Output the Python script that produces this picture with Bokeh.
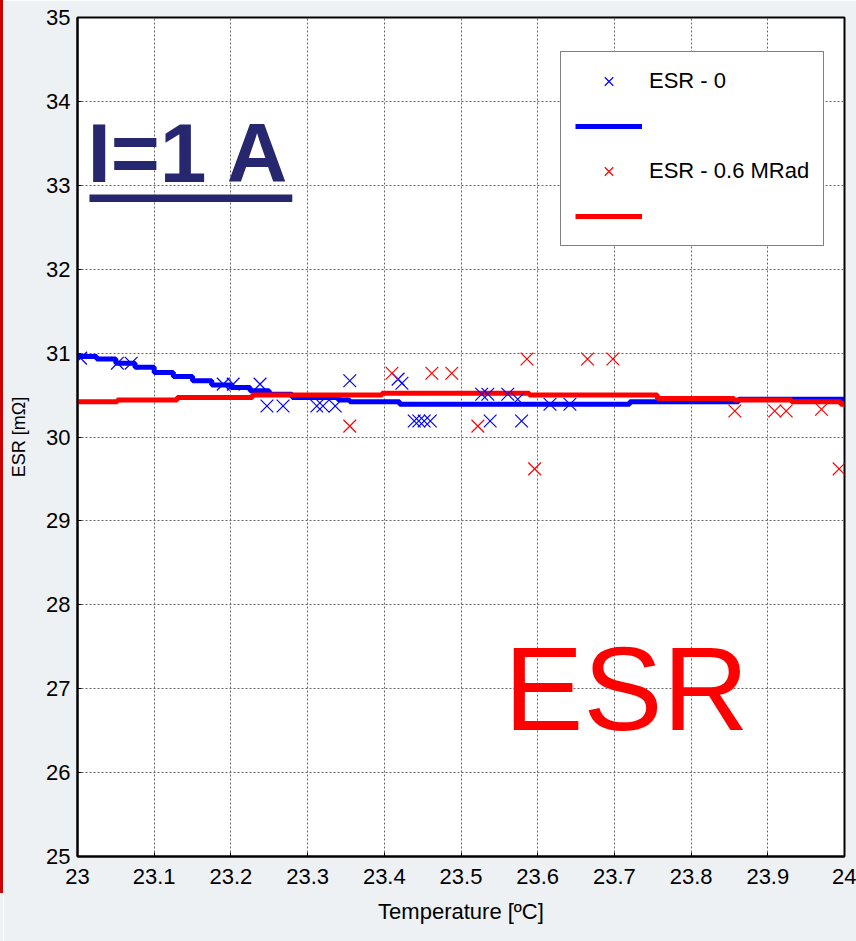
from bokeh.plotting import figure
from bokeh.models import Range1d, FixedTicker, Legend, LegendItem, Label, BoxAnnotation, Div
from bokeh.layouts import row
from bokeh.embed import file_html
from bokeh.resources import INLINE

# ---------------- data ----------------
esr0_temp = [23.004, 23.052, 23.070, 23.190, 23.203, 23.238, 23.247, 23.268, 23.312,
             23.320, 23.336, 23.355, 23.418, 23.423, 23.439, 23.445, 23.452, 23.460,
             23.527, 23.535, 23.538, 23.561, 23.574, 23.579, 23.616, 23.642]
esr0_val = [30.94, 30.88, 30.88, 30.63, 30.63, 30.63, 30.37, 30.37, 30.37,
            30.37, 30.37, 30.67, 30.69, 30.64, 30.19, 30.19, 30.19, 30.19,
            30.51, 30.51, 30.19, 30.51, 30.45, 30.19, 30.39, 30.39]

esr06_temp = [23.355, 23.410, 23.462, 23.488, 23.522, 23.586, 23.596, 23.665, 23.698,
              23.857, 23.909, 23.924, 23.970, 23.993]
esr06_val = [30.13, 30.76, 30.76, 30.76, 30.13, 30.93, 29.62, 30.93, 30.93,
             30.31, 30.31, 30.31, 30.33, 29.62]

# step fits (breakpoints and levels)
fit0_temp = [23.0, 23.025, 23.05, 23.075, 23.10, 23.125, 23.15, 23.175, 23.20, 23.225,
             23.25, 23.28, 23.34, 23.355, 23.42, 23.72, 23.862, 24.0]
fit0_val = [30.96, 30.93, 30.88, 30.83, 30.77, 30.72, 30.67, 30.62, 30.59, 30.55,
            30.51, 30.47, 30.44, 30.42, 30.39, 30.42, 30.45, 30.45]

fit06_temp = [23.0, 23.052, 23.13, 23.228, 23.397, 23.589, 23.756, 23.856, 23.931, 23.995, 24.0]
fit06_val = [30.42, 30.44, 30.47, 30.50, 30.52, 30.50, 30.46, 30.44, 30.42, 30.39, 30.39]

x_ticks = [23.0, 23.1, 23.2, 23.3, 23.4, 23.5, 23.6, 23.7, 23.8, 23.9, 24.0]
x_tick_labels = ["23", "23.1", "23.2", "23.3", "23.4", "23.5", "23.6", "23.7", "23.8", "23.9", "24"]
y_ticks = [25, 26, 27, 28, 29, 30, 31, 32, 33, 34, 35]
y_tick_labels = ["25", "26", "27", "28", "29", "30", "31", "32", "33", "34", "35"]

legend_labels = ["ESR - 0", "ESR - 0.6 MRad"]


def steps(xs, ys):
    sx, sy = [], []
    for i in range(len(xs) - 1):
        sx += [xs[i], xs[i + 1]]
        sy += [ys[i], ys[i]]
    return sx, sy


FONT = "Liberation Sans"
BLUE = "#0000ff"
RED = "#ff0000"
NAVY = "#27276f"
BG = "#eef1f4"

p = figure(width=853, height=941, x_range=Range1d(23, 24), y_range=Range1d(25, 35),
           output_backend="svg", toolbar_location=None, margin=0,
           min_border_left=74, min_border_right=12, min_border_top=17, min_border_bottom=85)
p.background_fill_color = "white"
p.border_fill_color = BG
p.outline_line_color = "black"
p.outline_line_width = 2

for ax in (p.xaxis[0], p.yaxis[0]):
    ax.axis_line_color = "black"
    ax.axis_line_width = 2
    ax.major_tick_in = 4
    ax.major_tick_out = 0
    ax.major_tick_line_color = "black"
    ax.minor_tick_line_color = None
    ax.major_label_text_font = FONT
    ax.major_label_text_font_size = "22px"
    ax.major_label_text_color = "black"

p.xaxis.ticker = FixedTicker(ticks=x_ticks)
p.xaxis.major_label_overrides = dict(zip(x_ticks, x_tick_labels))
p.yaxis.ticker = FixedTicker(ticks=y_ticks)
p.yaxis.major_label_overrides = dict(zip(y_ticks, y_tick_labels))
p.xaxis.major_label_standoff = 12
p.yaxis.major_label_standoff = 7

p.xaxis.axis_label = "Temperature [ºC]"
p.xaxis.axis_label_text_font = FONT
p.xaxis.axis_label_text_font_size = "22px"
p.xaxis.axis_label_text_font_style = "normal"
p.xaxis.axis_label_text_color = "black"
p.xaxis.axis_label_standoff = 12

p.yaxis.axis_label = "ESR [mΩ]"
p.yaxis.axis_label_text_font = FONT
p.yaxis.axis_label_text_font_size = "18px"
p.yaxis.axis_label_text_font_style = "normal"
p.yaxis.axis_label_text_color = "black"
p.yaxis.axis_label_standoff = 14

for g in (p.xgrid[0], p.ygrid[0]):
    g.grid_line_color = "#666666"
    g.grid_line_dash = "2 2"
    g.grid_line_width = 1

b_fx, b_fy = steps(fit0_temp, fit0_val)
r_fx, r_fy = steps(fit06_temp, fit06_val)

r_b_fit = p.line(b_fx, b_fy, line_color=BLUE, line_width=5)
r_r_fit = p.line(r_fx, r_fy, line_color=RED, line_width=5)
r_b_pts = p.scatter(esr0_temp, esr0_val, marker="x", size=18, line_color=BLUE, line_width=1.2)
r_r_pts = p.scatter(esr06_temp, esr06_val, marker="x", size=18, line_color=RED, line_width=1.2)

legend = Legend(items=[
    LegendItem(label=legend_labels[0], renderers=[r_b_pts]),
    LegendItem(label=" ", renderers=[r_b_fit]),
    LegendItem(label=legend_labels[1], renderers=[r_r_pts]),
    LegendItem(label=" ", renderers=[r_r_fit]),
], location=(483, 610))
legend.label_text_font = FONT
legend.label_text_font_size = "22px"
legend.label_text_color = "black"
legend.glyph_width = 67
legend.glyph_height = 30
legend.label_height = 30
legend.spacing = 15
legend.padding = 14
legend.margin = 0
legend.label_standoff = 7
legend.border_line_color = "black"
legend.border_line_width = 1.5
legend.background_fill_color = "white"
legend.background_fill_alpha = 1
p.add_layout(legend)

# annotations
p.add_layout(Label(x=23.013, y=33.39, text="I=1 A", text_font=FONT,
                   text_font_style="bold", text_font_size="84px", text_color=NAVY,
                   text_baseline="alphabetic"))
p.add_layout(BoxAnnotation(left=23.0156, right=23.28, bottom=32.80, top=32.89,
                           fill_color=NAVY, fill_alpha=1, line_alpha=0))
p.add_layout(Label(x=23.556, y=27.0, text="ESR", text_font=FONT,
                   text_font_size="119px", text_color=RED, text_baseline="alphabetic"))

bar = Div(text="", width=3, height=941, margin=0,
          styles={"background": "linear-gradient(#cc0000 0px, #cc0000 893px, %s 893px)" % BG})

layout = row(bar, p, spacing=0, margin=0)

open("out.html", "w").write(file_html(layout, INLINE))
